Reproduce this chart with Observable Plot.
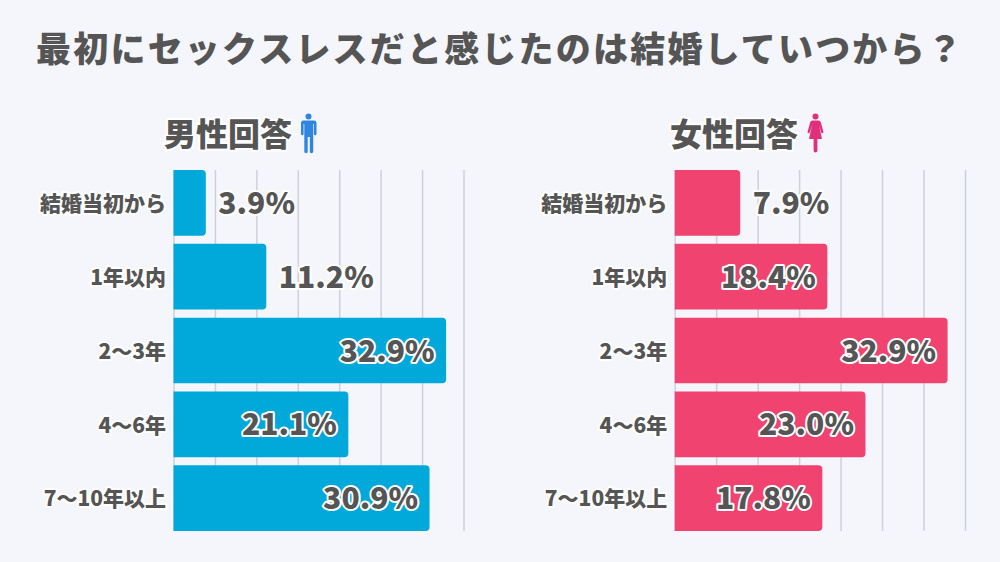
<!DOCTYPE html>
<html lang="ja"><head><meta charset="utf-8">
<script src="https://cdn.jsdelivr.net/npm/d3@7"></script>
<script src="https://cdn.jsdelivr.net/npm/@observablehq/plot@0.6"></script>
<style>
html,body{margin:0;padding:0;width:1000px;height:562px;overflow:hidden;background:#f4f6fc;font-family:"Noto Sans CJK JP","Noto Sans",sans-serif}
#title{position:absolute;left:0;top:17px;width:1000px;text-align:center;font-size:35px;font-weight:900;letter-spacing:2.2px;color:#555;line-height:60px;white-space:nowrap}
.head{position:absolute;top:107px;height:50px;line-height:50px;font-size:32px;font-weight:900;color:#555;white-space:nowrap;paint-order:stroke;-webkit-text-stroke:4px #fff}
.icon{position:absolute;top:113px}
.panel{position:absolute;top:160px;width:500px}
svg{overflow:visible;display:block}
</style></head><body>
<div id="title">最初にセックスレスだと感じたのは結婚していつから？</div>
<div class="head" style="left:164px">男性回答</div>
<svg class="icon" style="left:300px" width="17" height="40" viewBox="0 0 17 40"><circle cx="8.5" cy="3.5" r="3" fill="#2f86e0"/><path d="M3 7.5h11a2.5 2.5 0 0 1 2.5 2.5v11a1.2 1.2 0 0 1-2.6 0V11h-.7v27.5a1.6 1.6 0 0 1-3.4 0V24H7.7v14.5a1.6 1.6 0 0 1-3.4 0V11h-.7v10a1.2 1.2 0 0 1-2.6 0V10A2.5 2.5 0 0 1 3 7.5z" fill="#2f86e0"/></svg>
<div class="head" style="left:670px">女性回答</div>
<svg class="icon" style="left:807px" width="17" height="40" viewBox="0 0 17 40"><circle cx="8.5" cy="3.5" r="3" fill="#e0307c"/><path d="M5.5 7.5h6a2.5 2.5 0 0 1 2.3 1.7l2.6 9.5a1.1 1.1 0 0 1-2.2.6L12 12l3 14h-4.600v11.500a1.900 1.900 0 0 1-3.800 0V26H2l3-14-2.200 7.300a1.100 1.100 0 0 1-2.200-.6l2.600-9.500A2.500 2.500 0 0 1 5.500 7.500z" fill="#e0307c"/></svg>
<div class="panel" id="m" style="left:0"></div>
<div class="panel" id="f" style="left:500px"></div>
<script>
const categories = ["結婚当初から","1年以内","2〜3年","4〜6年","7〜10年以上"];
const maleValues = [3.9,11.2,32.9,21.1,30.9];
const femaleValues = [7.9,18.4,32.9,23.0,17.8];
const maleInside = [false,false,true,true,true];
const femaleInside = [false,true,true,true,true];
const gridTicks = [0,5,10,15,20,25,30,35];
const maleColor = "#00a9da";
const femaleColor = "#f04370";
const font = '"Noto Sans CJK JP","Noto Sans",sans-serif';

function panel(values, inside, color, marginLeft, marginRight){
  const rows = categories.map((c,i)=>({c, v:values[i], inside:inside[i], label:values[i].toFixed(1)+"%"}));
  const base = {y:"c", fontFamily:font, fontWeight:900, fill:"#555", stroke:"#fff", paintOrder:"stroke", strokeLinejoin:"round"};
  return Plot.plot({
    width:500, height:381, marginLeft, marginRight, marginTop:10, marginBottom:10,
    style:{background:"transparent"},
    x:{domain:[0,35], axis:null},
    y:{domain:categories, axis:null, paddingInner:0.11, paddingOuter:0, round:false},
    marks:[
      Plot.ruleX(gridTicks,{stroke:"#cfd1da",strokeWidth:1.5,strokeOpacity:1}),
      Plot.barX(rows,{x:"v",y:"c",fill:color,rx2:4,r2:4}),
      Plot.text(rows,{...base,x:0,text:"c",textAnchor:"end",dx:-8,dy:1,fontSize:21,strokeWidth:4,letterSpacing:1.5}),
      Plot.text(rows.filter(d=>d.inside),{...base,x:"v",text:"label",textAnchor:"end",dx:-12,dy:1,fontSize:30,strokeWidth:4}),
      Plot.text(rows.filter(d=>!d.inside),{...base,x:"v",text:"label",textAnchor:"start",dx:12,dy:1,fontSize:30,strokeWidth:4})
    ]
  });
}
document.getElementById("m").append(panel(maleValues,maleInside,maleColor,173.5,36.5));
document.getElementById("f").append(panel(femaleValues,femaleInside,femaleColor,174.7,35));
</script>
</body></html>
